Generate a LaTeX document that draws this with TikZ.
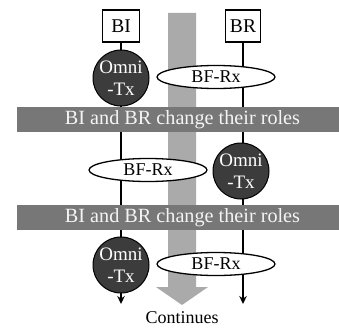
\documentclass[tikz,border=0pt]{standalone}
\usepackage{fontspec}
\setmainfont{Liberation Serif}
\usetikzlibrary{arrows.meta,shapes.geometric}
\definecolor{bandgray}{HTML}{777777}
\definecolor{arrowgray}{HTML}{AAAAAA}
\definecolor{circfill}{HTML}{3C3C3C}
\definecolor{bandtext}{HTML}{F4F4F4}
\tikzset{
  role/.style={draw=black,line width=1.8pt,fill=white,minimum width=37pt,minimum height=32pt,inner sep=0pt,font=\fontsize{19.5}{20}\selectfont},
  omni/.style={circle,draw=black,line width=1pt,fill=circfill,text=white,minimum size=56pt,inner sep=0pt,align=center,font=\fontsize{19}{22}\selectfont},
  bfrx/.style={ellipse,draw=black,line width=1.3pt,fill=white,minimum width=118pt,minimum height=23pt,inner sep=0pt,font=\fontsize{18}{20}\selectfont},
  band/.style={fill=bandgray,draw=none,minimum width=322pt,minimum height=25pt,inner sep=0pt},
  bandlabel/.style={text=bandtext,font=\fontsize{20.2}{22}\selectfont},
  life/.style={line width=1.4pt,-{Stealth[length=8pt,width=7.5pt]}},
}
\begin{document}
\begin{tikzpicture}[x=1pt,y=-1pt]
\useasboundingbox (0,0) rectangle (339,329);
% big gray progress arrow
\fill[arrowgray] (168,13) -- (196,13) -- (196,287) -- (208,287) -- (182,305) -- (156,287) -- (168,287) -- cycle;
% role boxes
\node[role] (bi) at (121,26) {BI};
\node[role,minimum width=35pt] (br) at (243,26) {BR};
% lifeline ends
\coordinate (biend) at (121,304);
\coordinate (brend) at (243,304);
\draw[life] (bi.south) -- (biend);
\draw[life] (br.south) -- (brend);
% bands
\node[band] (band1) at (178,119.5) {};
\node[bandlabel] (t1) at (182.5,119.5) {BI and BR change their roles};
\node[band] (band2) at (178,217.5) {};
\node[bandlabel] (t2) at (182.5,217.5) {BI and BR change their roles};
% phase 1
\node[omni] (o1) at (121,78) {Omni\\-Tx};
\node[bfrx] (r1) at (216,77) {BF-Rx};
% phase 2
\node[bfrx] (r2) at (148,170) {BF-Rx};
\node[omni] (o2) at (241,171) {Omni\\-Tx};
% phase 3
\node[omni] (o3) at (121,265) {Omni\\-Tx};
\node[bfrx] (r3) at (216,264) {BF-Rx};
% continues
\node[font=\fontsize{18}{20}\selectfont] (cont) at (182,318) {Continues};
\end{tikzpicture}
\end{document}
